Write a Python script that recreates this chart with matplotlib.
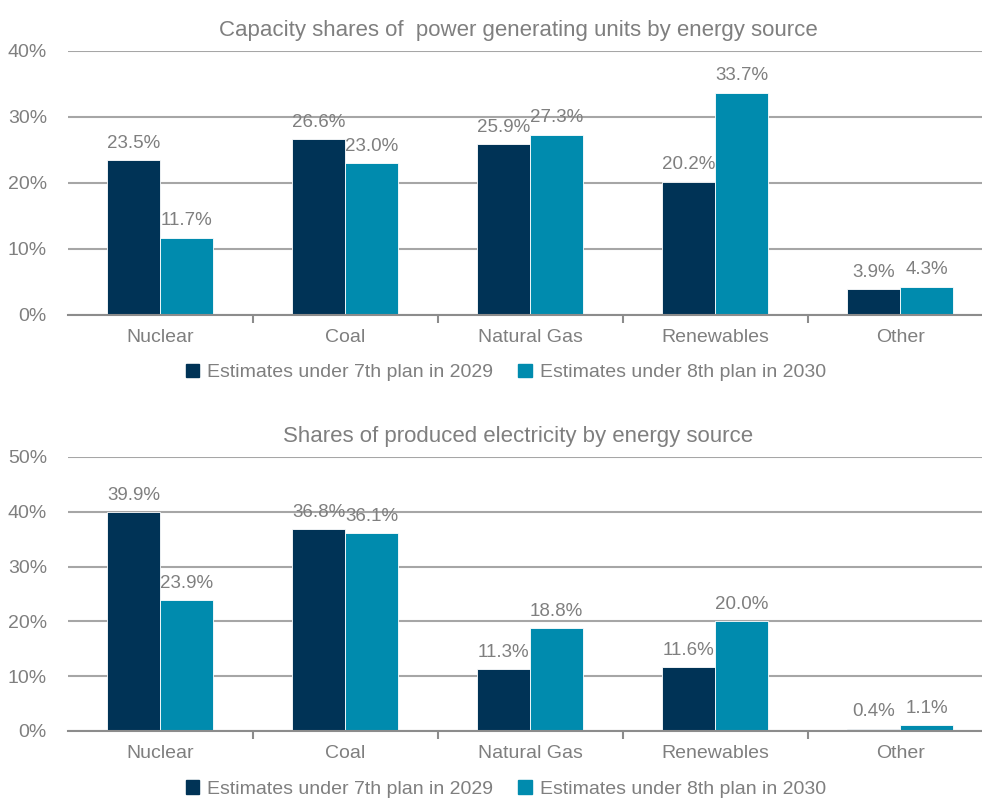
import numpy as np
import matplotlib
import matplotlib.pyplot as plt
from matplotlib.patches import Patch

matplotlib.use('Agg')

plt.rcParams['font.family'] = ['Liberation Sans', 'DejaVu Sans']

categories = ["Nuclear", "Coal", "Natural Gas", "Renewables", "Other"]
capacity_7th = [23.5, 26.6, 25.9, 20.2, 3.9]
capacity_8th = [11.7, 23.0, 27.3, 33.7, 4.3]
electricity_7th = [39.9, 36.8, 11.3, 11.6, 0.4]
electricity_8th = [23.9, 36.1, 18.8, 20.0, 1.1]
series_names = ["Estimates under 7th plan in 2029", "Estimates under 8th plan in 2030"]

NAVY = "#003356"
TEAL = "#008BAE"
GREY_TEXT = "#7F7F7F"
GRID = "#A6A6A6"

fig = plt.figure(figsize=(9.82, 7.98), dpi=100)


def draw_panel(ax, v1, v2, ymax, title, legend_y):
    x = np.arange(len(categories))
    w = 0.286
    ax.bar(x - w / 2, v1, w, color=NAVY, edgecolor="white", linewidth=0.6, zorder=3)
    ax.bar(x + w / 2, v2, w, color=TEAL, edgecolor="white", linewidth=0.6, zorder=3)
    for xi, a, b in zip(x, v1, v2):
        ax.annotate(f"{a:.1f}%", (xi - w / 2, a), xytext=(0, 6), textcoords="offset points",
                    ha="center", va="bottom", fontsize=13.5, color=GREY_TEXT)
        ax.annotate(f"{b:.1f}%", (xi + w / 2, b), xytext=(0, 6), textcoords="offset points",
                    ha="center", va="bottom", fontsize=13.5, color=GREY_TEXT)
    ax.set_xlim(-0.5, len(categories) - 0.5)
    ax.set_ylim(0, ymax)
    ax.set_yticks(np.arange(0, ymax + 1, 10))
    ax.set_yticklabels([f"{int(t)}%" for t in np.arange(0, ymax + 1, 10)])
    ax.yaxis.grid(True, color=GRID, linewidth=1.5, zorder=0)
    ax.set_axisbelow(True)
    for s in ["top", "right", "left"]:
        ax.spines[s].set_visible(False)
    ax.spines["bottom"].set_color("#8C8C8C")
    ax.spines["bottom"].set_linewidth(1.5)
    ax.spines["bottom"].set_zorder(4)
    ax.tick_params(axis="y", length=0, labelsize=14, labelcolor=GREY_TEXT, pad=15)
    # category names at centres, tick marks at the boundaries
    ax.set_xticks(x)
    ax.set_xticklabels(categories)
    ax.tick_params(axis="x", which="major", length=0, labelsize=14, labelcolor=GREY_TEXT, pad=10)
    ax.set_xticks(np.arange(0.5, len(categories) - 0.5, 1), minor=True)
    ax.tick_params(axis="x", which="minor", length=6, width=1.5, color="#8C8C8C", direction="out")
    ax.set_title(title, fontsize=16, color=GREY_TEXT, pad=11, x=0.487)
    handles = [Patch(color=NAVY), Patch(color=TEAL)]
    fig.legend(handles, series_names, loc="center", bbox_to_anchor=(0.515, legend_y),
               ncol=2, frameon=False, fontsize=14, labelcolor=GREY_TEXT,
               handlelength=0.7, handleheight=0.7, handletextpad=0.4, columnspacing=1.3)


ax1 = fig.add_axes([0.069, 0.6053, 0.942, 0.3308])
draw_panel(ax1, capacity_7th, capacity_8th, 40,
           "Capacity shares of  power generating units by energy source", 0.533)

ax2 = fig.add_axes([0.069, 0.0840, 0.942, 0.3434])
draw_panel(ax2, electricity_7th, electricity_8th, 50,
           "Shares of produced electricity by energy source", 0.0115)

fig.savefig("out.png", dpi=100)
